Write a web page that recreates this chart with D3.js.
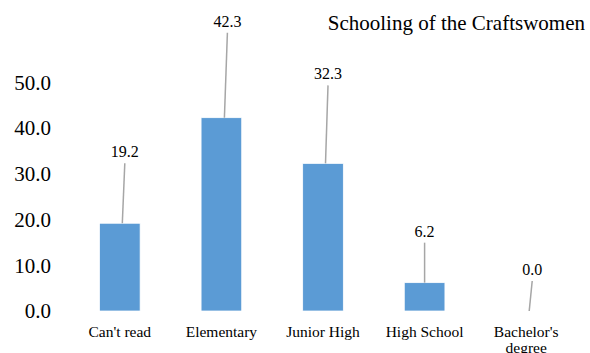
<!DOCTYPE html>
<html>
<head>
<meta charset="utf-8">
<script src="https://cdn.jsdelivr.net/npm/d3@7"></script>
<style>
  body { margin: 0; background: #fff; }
</style>
</head>
<body>
<svg id="chart" width="590" height="353"></svg>
<script>
// data
var categories = ["Can't read", "Elementary", "Junior High", "High School", "Bachelor's degree"];
var values = [19.2, 42.3, 32.3, 6.2, 0.0];
var yTicks = [0, 10, 20, 30, 40, 50];

// where the (hand placed) value labels sit relative to the bar top, in px
var labelDx = [5, 6, 5, 0, 6];
var labelLift = [60, 85, 78, 40, 30];

var serif = "'Liberation Serif', 'Times New Roman', serif";

var svg = d3.select("#chart")
  .style("font-family", serif);

var x = d3.scaleBand()
  .domain(categories)
  .range([69, 577])
  .paddingInner(0.6)
  .paddingOuter(0.3);

var y = d3.scaleLinear()
  .domain([0, 50])
  .range([311, 82.5]);

// y axis labels only, no line
var yAxis = d3.axisLeft(y)
  .tickValues(yTicks)
  .tickFormat(d3.format(".1f"))
  .tickSize(0)
  .tickPadding(0);

var gy = svg.append("g")
  .attr("transform", "translate(51,0)")
  .call(yAxis);
gy.select(".domain").remove();
gy.attr("font-family", null).attr("font-size", null);
gy.selectAll("text")
  .style("font-family", serif)
  .style("font-size", "21px")
  .attr("fill", "#000");

// bars
svg.selectAll("rect.bar")
  .data(values)
  .enter()
  .append("rect")
    .attr("class", "bar")
    .attr("x", function(d, i){ return x(categories[i]) })
    .attr("width", x.bandwidth())
    .attr("y", function(d){ return y(d) })
    .attr("height", function(d){ return y(0) - y(d) })
    .attr("fill", "#5B9BD5")
    .attr("stroke", "#ffffff")
    .attr("stroke-width", 0.75);

// leader lines
svg.selectAll("line.leader")
  .data(values)
  .enter()
  .append("line")
    .attr("class", "leader")
    .attr("x1", function(d, i){ return x(categories[i]) + x.bandwidth()/2 + labelDx[i] })
    .attr("y1", function(d, i){ return y(d) - labelLift[i] })
    .attr("x2", function(d, i){ return x(categories[i]) + x.bandwidth()/2 + labelDx[i]/2 })
    .attr("y2", function(d){ return y(d) })
    .attr("stroke", "#A6A6A6")
    .attr("stroke-width", 1.5);

// value labels
svg.selectAll("text.val")
  .data(values)
  .enter()
  .append("text")
    .attr("class", "val")
    .attr("x", function(d, i){ return x(categories[i]) + x.bandwidth()/2 + labelDx[i] })
    .attr("y", function(d, i){ return y(d) - labelLift[i] - 6 })
    .attr("text-anchor", "middle")
    .style("font-family", serif)
    .style("font-size", "16px")
    .text(function(d){ return d.toFixed(1) });

// category labels (wrapped)
var catG = svg.selectAll("text.cat")
  .data(categories)
  .enter()
  .append("text")
    .attr("class", "cat")
    .attr("text-anchor", "middle")
    .style("font-family", serif)
    .style("font-size", "15.5px")
    .attr("x", function(d){ return x(d) + x.bandwidth()/2 })
    .attr("y", 337);

catG.each(function(d){
  var words = d === "Bachelor's degree" ? ["Bachelor's", "degree"] : [d];
  var t = d3.select(this);
  words.forEach(function(w, j){
    t.append("tspan")
      .attr("x", x(d) + x.bandwidth()/2)
      .attr("dy", j === 0 ? 0 : 16)
      .text(w);
  });
});

// title
svg.append("text")
  .attr("x", 585)
  .attr("y", 30)
  .attr("text-anchor", "end")
  .style("font-family", serif)
  .style("font-size", "21px")
  .text("Schooling of the Craftswomen");
</script>
</body>
</html>
